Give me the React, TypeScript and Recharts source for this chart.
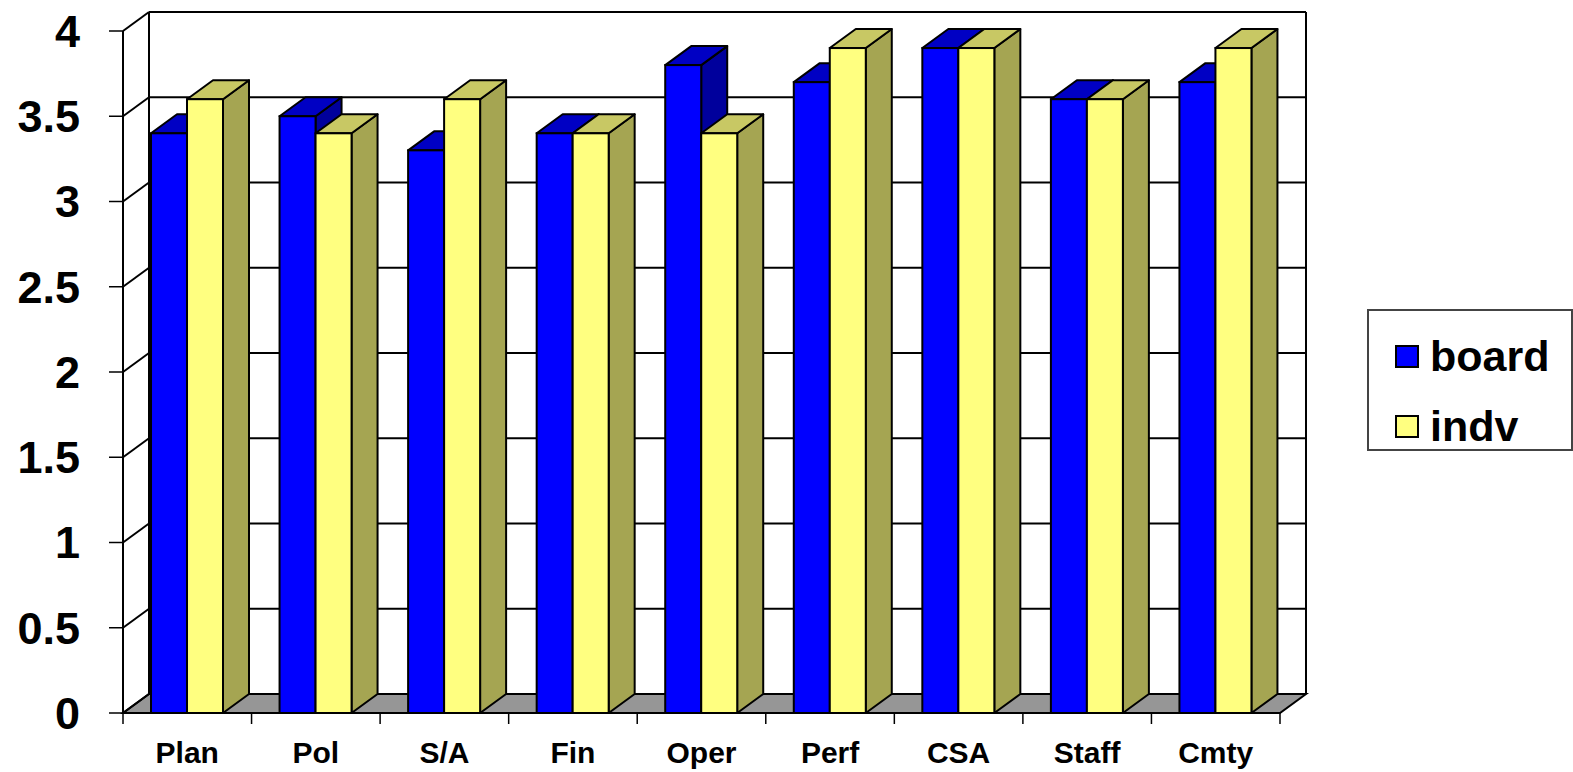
import React from 'react';
import { BarChart, Bar, XAxis, YAxis, ReferenceLine, ReferenceArea, Legend } from 'recharts';

const categories = ['Plan', 'Pol', 'S/A', 'Fin', 'Oper', 'Perf', 'CSA', 'Staff', 'Cmty'];
const boardValues = [3.4, 3.5, 3.3, 3.4, 3.8, 3.7, 3.9, 3.6, 3.7];
const indvValues = [3.6, 3.4, 3.6, 3.4, 3.4, 3.9, 3.9, 3.6, 3.9];
const yTicks = [0, 0.5, 1, 1.5, 2, 2.5, 3, 3.5, 4];
const seriesNames = ['board', 'indv'];

const data = categories.map((c, i) => ({ name: c, board: boardValues[i], indv: indvValues[i] }));

const DX = 26;
const DY = 19;
const FONT = 'Liberation Sans, Arial, Helvetica, sans-serif';

const BLUE = { front: '#0000FF', top: '#0000C4', side: '#00009C' };
const YELLOW = { front: '#FFFF80', top: '#C8C864', side: '#A5A552' };

const makeBox = (c: { front: string; top: string; side: string }) => (props: any) => {
  const { x, y, width, height } = props;
  if (x == null || width == null || height == null) return <g />;
  const x2 = x + width;
  const yb = y + height;
  return (
    <g>
      <polygon
        points={`${x2},${y} ${x2 + DX},${y - DY} ${x2 + DX},${yb - DY} ${x2},${yb}`}
        fill={c.side}
        stroke="#000"
        strokeWidth={2}
        strokeLinejoin="round"
      />
      <polygon
        points={`${x},${y} ${x + DX},${y - DY} ${x2 + DX},${y - DY} ${x2},${y}`}
        fill={c.top}
        stroke="#000"
        strokeWidth={2}
        strokeLinejoin="round"
      />
      <rect x={x} y={y} width={width} height={height} fill={c.front} stroke="#000" strokeWidth={2} />
    </g>
  );
};

const wallLine = (props: any) => {
  const { x1, y1, x2 } = props;
  const xl = Math.min(x1, x2);
  const xr = Math.max(x1, x2);
  return (
    <g>
      <line x1={xl} y1={y1} x2={xl + DX} y2={y1 - DY} stroke="#000" strokeWidth={2} />
      <line x1={xl + DX} y1={y1 - DY} x2={xr + DX} y2={y1 - DY} stroke="#000" strokeWidth={2} />
    </g>
  );
};

const floorShape = (props: any) => {
  const { x, y, width, height } = props;
  if (x == null) return <g />;
  const yb = y + height;
  const xr = x + width;
  const n = categories.length;
  const ticks = [];
  for (let i = 0; i <= n; i++) {
    const tx = x + (i * width) / n;
    ticks.push(<line key={i} x1={tx} y1={yb} x2={tx} y2={yb + 11} stroke="#000" strokeWidth={1.5} />);
  }
  return (
    <g>
      <polygon
        points={`${x},${yb} ${xr},${yb} ${xr + DX},${yb - DY} ${x + DX},${yb - DY}`}
        fill="#969696"
        stroke="#000"
        strokeWidth={2}
      />
      <line x1={x + DX} y1={y - DY} x2={x + DX} y2={yb - DY} stroke="#000" strokeWidth={2} />
      <line x1={xr + DX} y1={y - DY} x2={xr + DX} y2={yb - DY} stroke="#000" strokeWidth={2} />
      {ticks}
    </g>
  );
};

const LegendContent = (props: any) => {
  const { payload } = props;
  return (
    <div
      style={{
        boxSizing: 'border-box',
        width: 206,
        height: 142,
        border: '2px solid #444',
        background: '#fff',
        paddingTop: 10,
        paddingLeft: 26,
      }}
    >
      {(payload || []).map((p: any, i: number) => (
        <div key={i} style={{ display: 'flex', alignItems: 'center', height: 70 }}>
          <div
            style={{
              boxSizing: 'border-box',
              width: 24,
              height: 23,
              background: p.color,
              border: '2px solid #000',
              marginRight: 11,
            }}
          />
          <span style={{ fontFamily: FONT, fontWeight: 700, fontSize: 43, color: '#000', lineHeight: '48px' }}>
            {p.value}
          </span>
        </div>
      ))}
    </div>
  );
};

export default function App() {
  return (
    <div style={{ position: 'absolute', left: 0, top: 0, width: 1573, height: 772, background: '#fff' }}>
      <BarChart
        width={1573}
        height={772}
        data={data}
        margin={{ top: 31, right: 293, bottom: 0, left: 0 }}
        barGap={0}
        barSize={36}
      >
        <ReferenceArea y1={0} y2={4} shape={floorShape} zIndex={-90} />
        {yTicks.map((v) => (
          <ReferenceLine key={v} y={v} shape={wallLine} zIndex={-80} />
        ))}
        <XAxis
          dataKey="name"
          interval={0}
          tickLine={false}
          tickSize={0}
          tickMargin={29}
          height={59}
          axisLine={{ stroke: '#000', strokeWidth: 2 }}
          tick={{ fontSize: 30, fontWeight: 700, fill: '#000', fontFamily: FONT }}
        />
        <YAxis
          type="number"
          domain={[0, 4]}
          ticks={yTicks}
          interval={0}
          width={123}
          tickSize={14}
          tickMargin={29}
          axisLine={{ stroke: '#000', strokeWidth: 2 }}
          tickLine={{ stroke: '#000', strokeWidth: 1.5 }}
          tick={{ fontSize: 45, fontWeight: 700, fill: '#000', fontFamily: FONT }}
        />
        <Legend
          layout="vertical"
          align="center"
          verticalAlign="middle"
          content={LegendContent}
          wrapperStyle={{ left: 1367, top: 309, width: 206, height: 142 }}
        />
        <Bar dataKey="board" name={seriesNames[0]} fill={BLUE.front} shape={makeBox(BLUE)} isAnimationActive={false} />
        <Bar dataKey="indv" name={seriesNames[1]} fill={YELLOW.front} shape={makeBox(YELLOW)} isAnimationActive={false} />
      </BarChart>
    </div>
  );
}
